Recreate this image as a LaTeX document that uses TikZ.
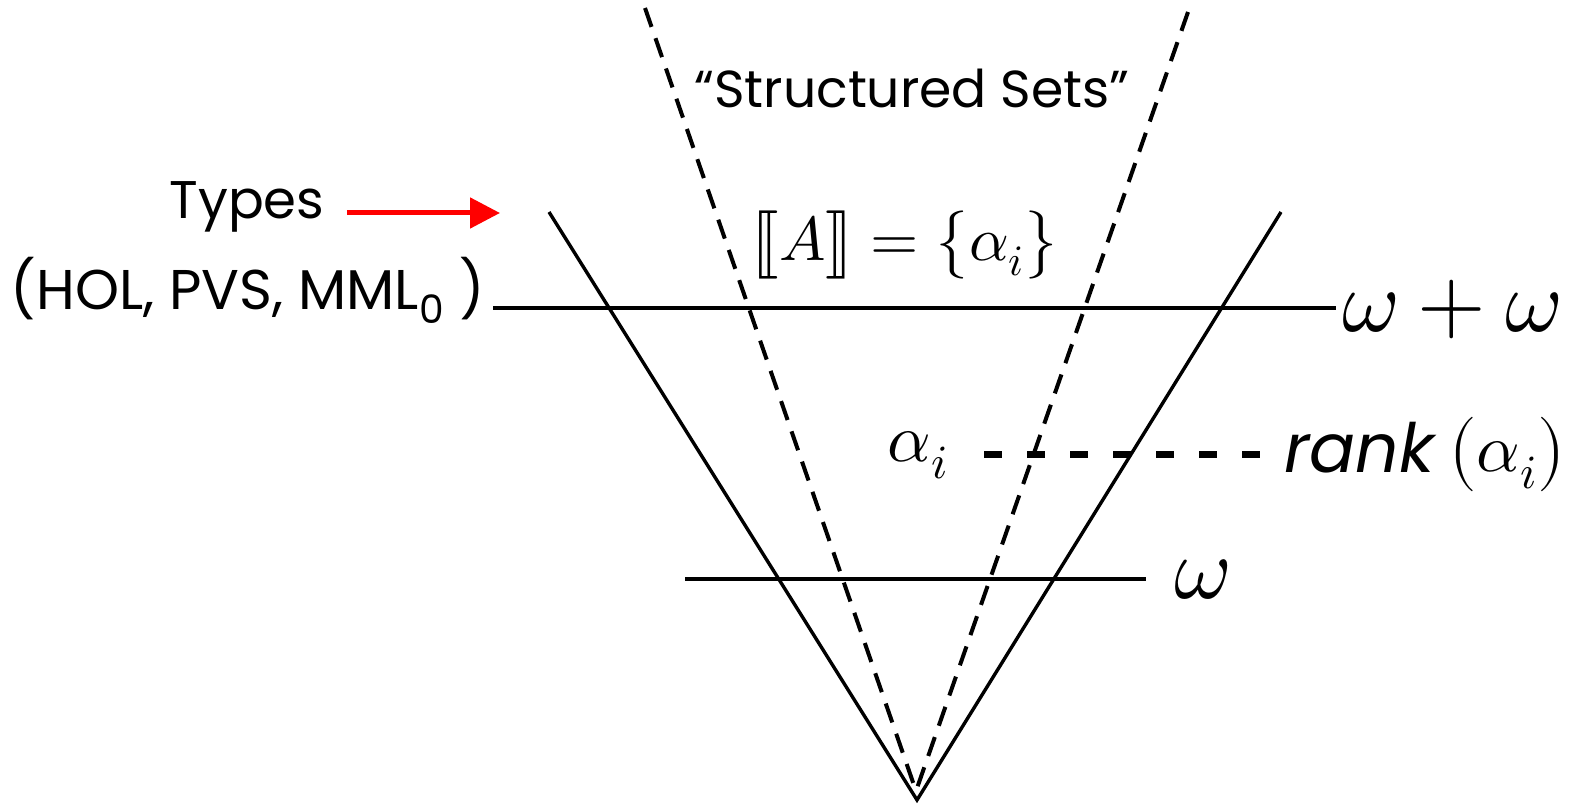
\documentclass[tikz,border=0pt]{standalone}
\usepackage{fontspec}
\usepackage{unicode-math}
\setmainfont{Poppins}
\setmathfont{Latin Modern Math}
\usetikzlibrary{arrows.meta,positioning}
\tikzset{
    vline/.style={line width=1.7pt},
    ordline/.style={line width=1.7pt},
    setline/.style={line width=2pt,dash pattern=on 10pt off 6pt},
    rankdash/.style={line width=3.5pt,dash pattern=on 9pt off 12.5pt},
    pointer/.style={-{Triangle[length=15pt,width=15pt]},line width=2.5pt,red},
    txt/.style={inner sep=0pt,font=\fontsize{26.5}{32}\selectfont},
    systxt/.style={inner sep=0pt,font=\fontsize{28}{34}\selectfont},
    bigtxt/.style={inner sep=0pt,font=\fontsize{26}{32}\selectfont},
    ordlbl/.style={inner sep=0pt,font=\fontsize{44}{50}\selectfont},
    mathlbl/.style={inner sep=0pt,font=\fontsize{34}{40}\selectfont},
    setlbl/.style={inner sep=0pt,font=\fontsize{31}{36}\selectfont}
}

\begin{document}
\begin{tikzpicture}[x=0.5pt,y=-0.5pt]
    \useasboundingbox (0,0) rectangle (1572,806);
    % Universe (solid V)
    \coordinate (apex) at (917,800);
    \coordinate (vleft) at (549,212);
    \coordinate (vright) at (1281,212);
    \draw[vline] (vleft) -- (apex) -- (vright);
    % Structured sets (dashed V)
    \coordinate (sapex) at (916,791);
    \coordinate (sleft) at (645,8);
    \coordinate (sright) at (1188,12);
    \draw[setline] (sleft) -- (sapex);
    \draw[setline] (sright) -- (sapex);
    \node[bigtxt] (sets) at (912,88) {“Structured Sets”};
    \node[setlbl] (interp) at (905,245) {$\bigl\lBrack A\bigr\rBrack = \bigl\{ \alpha_i \bigr\}$};
    % Levels
    \coordinate (top1) at (493,308);
    \coordinate (top2) at (1336,308);
    \draw[ordline] (top1) -- (top2);
    \node[ordlbl,anchor=west] (omom) at (1342,310) {$\omega+\omega$};
    \coordinate (low1) at (685,579);
    \coordinate (low2) at (1146,579);
    \draw[ordline] (low1) -- (low2);
    \node[ordlbl,anchor=west] (om) at (1174,580) {$\omega$};
    % Rank
    \node[mathlbl] (alpha) at (918,455) {$\alpha_i$};
    \node[mathlbl,anchor=west] (rank) at (1284,455) {\textit{rank}$\,\bigl(\alpha_i\bigr)$};
    \coordinate (dash1) at (984,455);
    \coordinate (dash2) at (1260,455);
    \draw[rankdash] (dash1) -- (dash2);
    % Types
    \node[txt] (types) at (247,207) {Types};
    \node[systxt] (systems) at (248,290) {(HOL, PVS, MML\textsubscript{0} )};
    \coordinate (typetip) at (500,213);
    \draw[pointer] ([xshift=11pt]types.east |- typetip) -- (typetip);
\end{tikzpicture}
\end{document}
